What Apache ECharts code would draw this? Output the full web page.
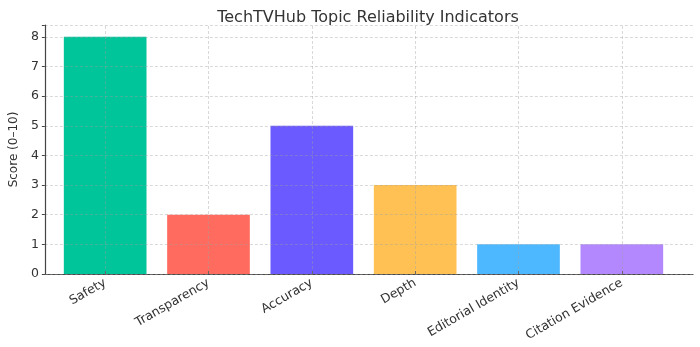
<!DOCTYPE html>
<html>
<head>
<meta charset="utf-8">
<script src="https://cdn.jsdelivr.net/npm/echarts@6/dist/echarts.min.js"></script>
<style>html,body{margin:0;padding:0;background:#fff}#c{width:700px;height:347px}</style>
</head>
<body>
<div id="c"></div>
<script>
const categories = ["Safety", "Transparency", "Accuracy", "Depth", "Editorial Identity", "Citation Evidence"];
const scores = [8, 2, 5, 3, 1, 1];
const barColors = ["#00C49A", "#FF6B5F", "#6A5AFF", "#FFC154", "#4DB8FF", "#B388FF"];
const yTicks = [0, 1, 2, 3, 4, 5, 6, 7, 8];

const font = "DejaVu Sans";
const chart = echarts.init(document.getElementById('c'), null, {renderer: 'canvas'});
const gridStyle = {color: 'rgba(160,160,160,0.5)', type: [3, 2], width: 0.8};
chart.setOption({
  animation: false,
  title: {
    text: "TechTVHub Topic Reliability Indicators",
    left: 363, top: 5, textAlign: 'center',
    textStyle: {fontFamily: font, fontSize: 16, fontWeight: 'normal', color: '#333'}
  },
  grid: [
    {left: 34, right: 7, top: 25, bottom: 73},
    {left: 53.5, right: 26.5, top: 25, bottom: 73}
  ],
  xAxis: [
    {gridIndex: 0, type: 'value', min: 0, max: 1, show: true,
     axisLine: {show: true, lineStyle: {color: '#444', width: 1.2}},
     axisTick: {show: false}, axisLabel: {show: false}, splitLine: {show: false}},
    {gridIndex: 1, type: 'category', data: categories, z: 5,
     axisLine: {show: false},
     axisTick: {show: true, alignWithLabel: true, inside: true, length: 3, lineStyle: {color: '#444'}},
     axisLabel: {rotate: 30, fontFamily: font, fontSize: 12.5, color: '#333', margin: 8, interval: 0},
     splitLine: {show: false}}
  ],
  yAxis: [
    {gridIndex: 0, type: 'value', min: 0, max: 8.4, interval: 1, z: 5,
     name: "Score (0–10)", nameLocation: 'middle', nameGap: 23, nameRotate: 90,
     nameTextStyle: {fontFamily: font, fontSize: 12, color: '#333'},
     axisLine: {show: true, lineStyle: {color: '#444', width: 1.2}},
     axisTick: {show: true, length: 3, lineStyle: {color: '#444'}},
     axisLabel: {fontFamily: font, fontSize: 12.5, color: '#333', margin: 6,
       formatter: v => yTicks.includes(v) ? String(v) : ''},
     splitLine: {show: true, lineStyle: gridStyle}},
    {gridIndex: 1, type: 'value', min: 0, max: 8.4, show: false, splitLine: {show: false}}
  ],
  series: [{
    type: 'bar', xAxisIndex: 1, yAxisIndex: 1,
    barWidth: '80%',
    data: scores.map((v, i) => ({value: v, itemStyle: {color: barColors[i]}})),
    markLine: {
      silent: true, symbol: 'none', z: 10, animation: false,
      label: {show: false},
      lineStyle: gridStyle,
      emphasis: {disabled: true},
      data: categories.map(c => ({xAxis: c}))
    }
  }]
});
</script>
</body>
</html>
